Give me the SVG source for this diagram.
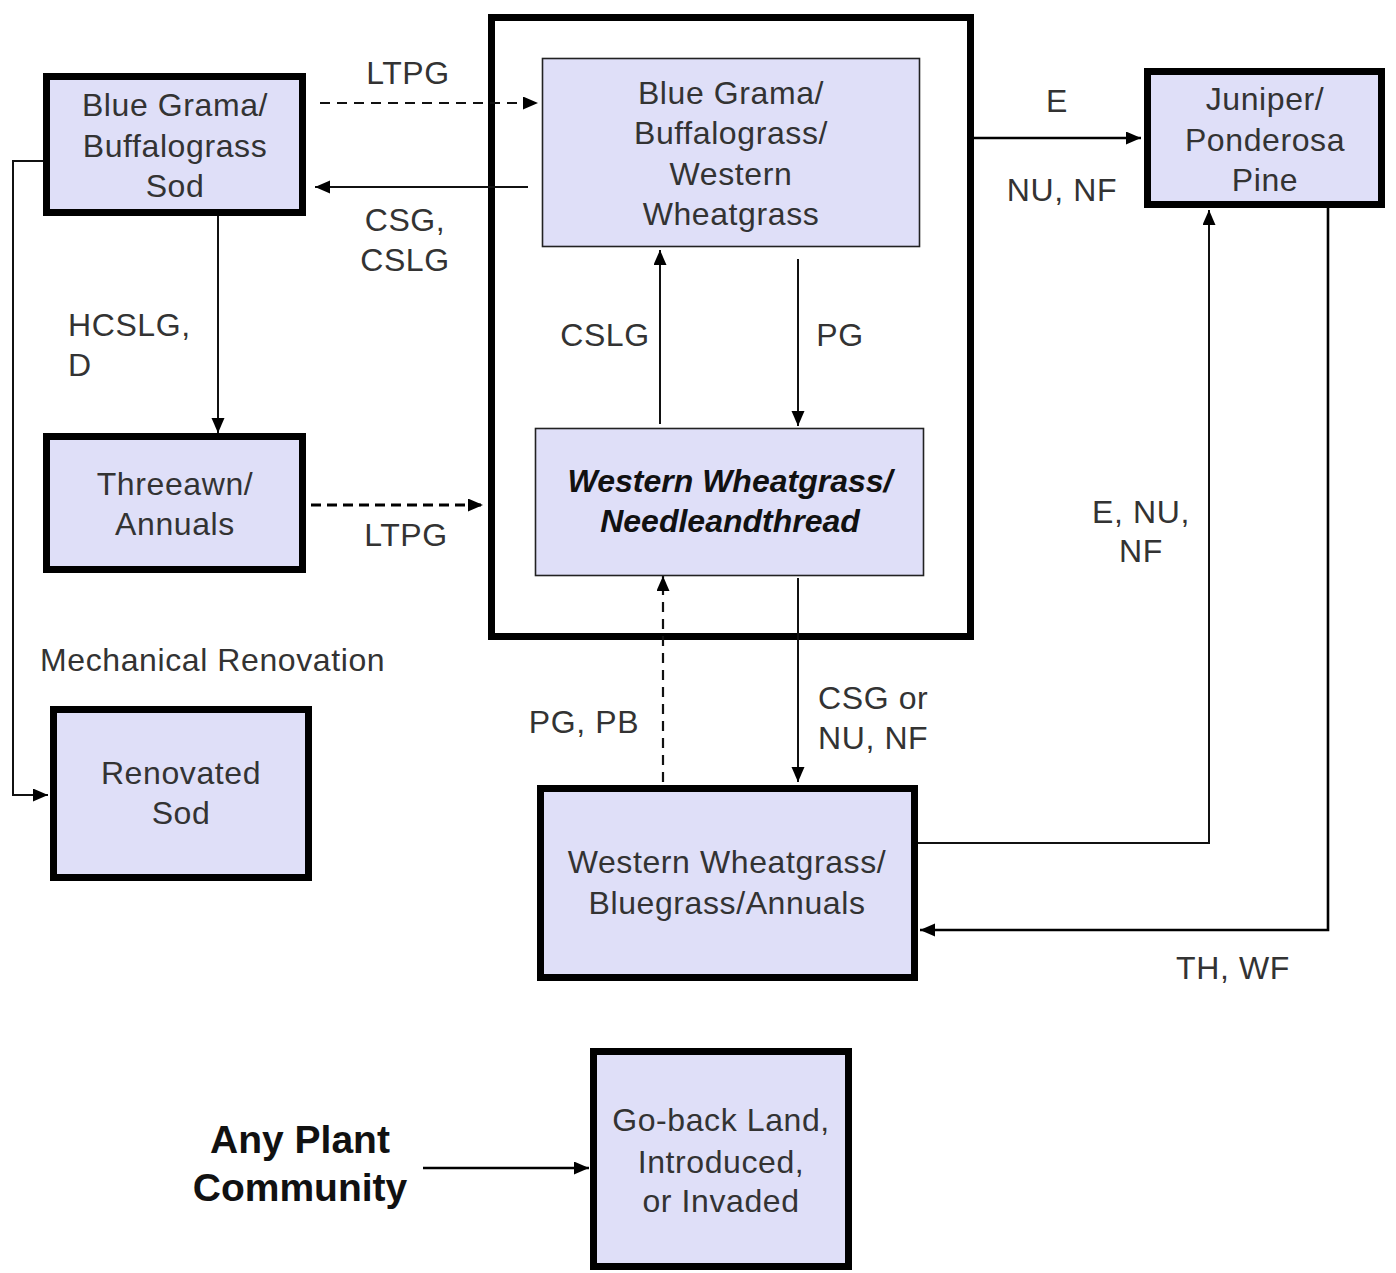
<svg xmlns="http://www.w3.org/2000/svg" width="1396" height="1273" viewBox="0 0 1396 1273">
<style>
.thick{fill:#DFDFF8;stroke:#000;stroke-width:7}
.thin{fill:#DFDFF8;stroke:#222;stroke-width:1.6}
.frame{fill:none;stroke:#000;stroke-width:7}
text{font-family:"Liberation Sans",Arial,sans-serif;font-size:32px;fill:#333;letter-spacing:0.6px}
.c{text-anchor:middle}
.bi{font-weight:bold;font-style:italic;fill:#111;letter-spacing:0}
.bold{font-weight:bold;font-size:39px;fill:#111;letter-spacing:0}
.ln{fill:none;stroke:#111;stroke-width:2}
.lnb{fill:none;stroke:#000;stroke-width:2.6}
.dash{fill:none;stroke:#111;stroke-width:2.2;stroke-dasharray:10,7}
.dashb{fill:none;stroke:#000;stroke-width:3;stroke-dasharray:10,6}
</style>
<defs>
<marker id="ah" markerUnits="userSpaceOnUse" markerWidth="18" markerHeight="14" refX="15" refY="6.5" orient="auto">
<path d="M0,0 L15,6.5 L0,13 Z" fill="#000"/>
</marker>
</defs>
<rect width="1396" height="1273" fill="#fff"/>
<g id="frame-group">
<rect class="frame" x="491.5" y="17.5" width="479" height="619"/>
</g>
<g id="connectors">
<path class="dash" d="M320,103 H538" marker-end="url(#ah)"/>
<path class="ln" d="M528,187 H315" marker-end="url(#ah)"/>
<path class="ln" d="M218,216 V433" marker-end="url(#ah)"/>
<path class="ln" d="M43,161 H13 V795 H48" marker-end="url(#ah)"/>
<path class="dashb" d="M311,505 H483" marker-end="url(#ah)"/>
<path class="ln" d="M660,424 V250" marker-end="url(#ah)"/>
<path class="ln" d="M798,259 V426" marker-end="url(#ah)"/>
<path class="dash" d="M663,782 V576" marker-end="url(#ah)"/>
<path class="ln" d="M798,578 V782" marker-end="url(#ah)"/>
<path class="lnb" d="M974,138 H1141" marker-end="url(#ah)"/>
<path class="ln" d="M918,843 H1209 V210" marker-end="url(#ah)"/>
<path class="lnb" d="M1328,208 V930 H920" marker-end="url(#ah)"/>
<path class="lnb" d="M423,1168 H589" marker-end="url(#ah)"/>
</g>
<g id="labels">
<text class="c" x="408" y="84">LTPG</text>
<text class="c" x="405" y="231">CSG,</text>
<text class="c" x="405" y="271">CSLG</text>
<text x="68" y="336">HCSLG,</text>
<text x="68" y="376">D</text>
<text x="40" y="671">Mechanical Renovation</text>
<text class="c" x="406" y="546">LTPG</text>
<text class="c" x="605" y="346">CSLG</text>
<text class="c" x="840" y="346">PG</text>
<text class="c" x="584" y="733">PG, PB</text>
<text x="818" y="709">CSG or</text>
<text x="818" y="749">NU, NF</text>
<text class="c" x="1057" y="112">E</text>
<text class="c" x="1062" y="201">NU, NF</text>
<text class="c" x="1141" y="523">E, NU,</text>
<text class="c" x="1141" y="562">NF</text>
<text class="c" x="1233" y="979">TH, WF</text>
</g>
<g id="node-bgbs">
<rect class="thick" x="46.5" y="76.5" width="256" height="136"/>
<text class="c" x="175" y="116">Blue Grama/</text>
<text class="c" x="175" y="157">Buffalograss</text>
<text class="c" x="175" y="197">Sod</text>
</g>
<g id="node-bgbww">
<rect class="thin" x="542.5" y="58.5" width="377" height="188"/>
<text class="c" x="731" y="104">Blue Grama/</text>
<text class="c" x="731" y="144">Buffalograss/</text>
<text class="c" x="731" y="185">Western</text>
<text class="c" x="731" y="225">Wheatgrass</text>
</g>
<g id="node-wwn">
<rect class="thin" x="535.5" y="428.5" width="388" height="147"/>
<text class="c bi" x="730" y="492">Western Wheatgrass/</text>
<text class="c bi" x="730" y="532">Needleandthread</text>
</g>
<g id="node-jpp">
<rect class="thick" x="1147.5" y="71.5" width="234" height="133"/>
<text class="c" x="1265" y="110">Juniper/</text>
<text class="c" x="1265" y="151">Ponderosa</text>
<text class="c" x="1265" y="191">Pine</text>
</g>
<g id="node-threeawn">
<rect class="thick" x="46.5" y="436.5" width="256" height="133"/>
<text class="c" x="175" y="495">Threeawn/</text>
<text class="c" x="175" y="535">Annuals</text>
</g>
<g id="node-renovated">
<rect class="thick" x="53.5" y="709.5" width="255" height="168"/>
<text class="c" x="181" y="784">Renovated</text>
<text class="c" x="181" y="824">Sod</text>
</g>
<g id="node-wwba">
<rect class="thick" x="540.5" y="788.5" width="374" height="189"/>
<text class="c" x="727" y="873">Western Wheatgrass/</text>
<text class="c" x="727" y="914">Bluegrass/Annuals</text>
</g>
<g id="node-apc">
<text class="c bold" x="300" y="1153">Any Plant</text>
<text class="c bold" x="300" y="1201">Community</text>
</g>
<g id="node-goback">
<rect class="thick" x="593.5" y="1051.5" width="255" height="215"/>
<text class="c" x="721" y="1131">Go-back Land,</text>
<text class="c" x="721" y="1173">Introduced,</text>
<text class="c" x="721" y="1212">or Invaded</text>
</g>
</svg>
